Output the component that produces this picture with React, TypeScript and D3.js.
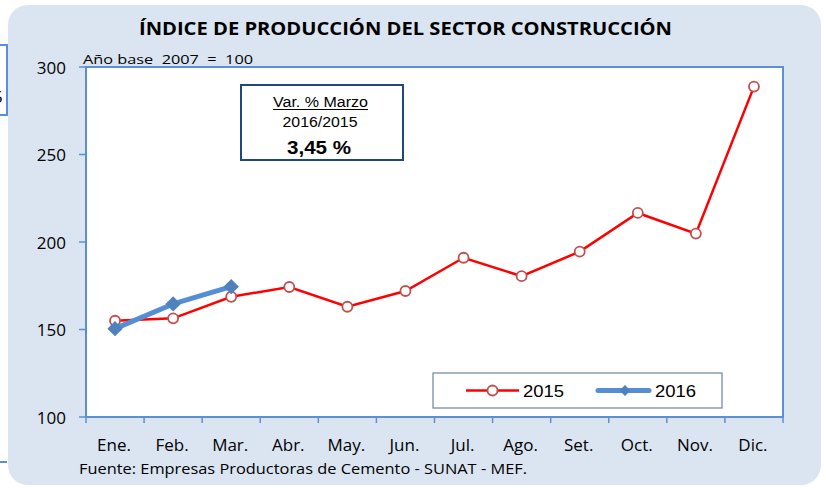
import React from "react";
import * as d3 from "d3";

const months = ["Ene.", "Feb.", "Mar.", "Abr.", "May.", "Jun.", "Jul.", "Ago.", "Set.", "Oct.", "Nov.", "Dic."];
const values2015 = [155.0, 156.4, 168.7, 174.3, 163.0, 172.0, 191.0, 180.5, 194.5, 216.6, 204.8, 288.8];
const values2016 = [150.5, 164.6, 174.5];
const yTicks = [100, 150, 200, 250, 300];
const title = "ÍNDICE DE PRODUCCIÓN DEL SECTOR CONSTRUCCIÓN";
const baseNote = "Año base  2007  =  100";
const source = "Fuente: Empresas Productoras de Cemento - SUNAT - MEF.";
const seriesNames = ["2015", "2016"];

const W = 826, H = 488;
const plot = { left: 86, right: 783, top: 67, bottom: 417 };
const BLUE = "#5b8fd6";
const CAL = "'Open Sans', 'DejaVu Sans', sans-serif";
const ARIAL = "'Liberation Sans', Arial, sans-serif";

export default function App() {
  const x = d3.scaleBand<string>().domain(months).range([plot.left, plot.right]).padding(0);
  const y = d3.scaleLinear().domain([100, 300]).range([plot.bottom, plot.top]);
  const cx = (i: number) => (x(months[i]) as number) + x.bandwidth() / 2;
  const line = d3.line<number>().x((_, i) => cx(i)).y((d) => y(d));
  const diamondType = (d3 as any).symbolDiamond2 || d3.symbolDiamond;
  const diamond = d3.symbol().type(diamondType).size(150)();
  const diamondSmall = d3.symbol().type(diamondType).size(75)();
  const boundaries = months.map((m) => x(m) as number).concat([plot.right]);

  return (
    <svg width={W} height={H} style={{ position: "absolute", left: 0, top: 0 }}>
      <rect x={0} y={0} width={W} height={H} fill="#ffffff" />
      {/* left fragments */}
      <path d="M0,45 H7 V115 H0" fill="none" stroke={BLUE} strokeWidth={2} />
      <text x={-7} y={103} fontFamily={CAL} fontSize={17} fill="#000">5</text>
      <line x1={0} x2={7} y1={462} y2={462} stroke={BLUE} strokeWidth={2} />
      {/* panel */}
      <rect x={8} y={5} width={813} height={480} rx={20} ry={20} fill="#dbe5f1" />
      <text x={139} y={35} fontFamily={CAL} fontWeight="bold" fontSize={18} textLength={533} lengthAdjust="spacingAndGlyphs" fill="#000">{title}</text>
      {/* plot area */}
      <rect x={plot.left} y={plot.top} width={plot.right - plot.left} height={plot.bottom - plot.top} fill="#ffffff" stroke={BLUE} strokeWidth={2} />
      <text x={83} y={64} fontFamily={CAL} fontSize={13} textLength={170} lengthAdjust="spacingAndGlyphs" style={{ whiteSpace: "pre" }} fill="#000">{baseNote}</text>
      {/* y axis ticks */}
      {yTicks.map((t) => (
        <g key={t}>
          <line x1={plot.left - 7} x2={plot.left} y1={y(t)} y2={y(t)} stroke={BLUE} strokeWidth={1.5} />
          <text x={66} y={y(t) + 6.5} textAnchor="end" fontFamily={CAL} fontSize={17} fill="#000">{t}</text>
        </g>
      ))}
      {/* x axis ticks */}
      {boundaries.map((b, i) => (
        <line key={i} x1={b} x2={b} y1={plot.bottom} y2={plot.bottom + 6} stroke={BLUE} strokeWidth={1.5} />
      ))}
      {months.map((m, i) => (
        <text key={m} x={cx(i) - 1} y={451} textAnchor="middle" fontFamily={CAL} fontSize={17} fill="#000">{m}</text>
      ))}
      <text x={79} y={474} fontFamily={CAL} fontSize={14.5} textLength={448} lengthAdjust="spacingAndGlyphs" fill="#000">{source}</text>
      {/* var box */}
      <rect x={241} y={85} width={162} height={75} fill="#ffffff" stroke="#1f497d" strokeWidth={2} />
      <text x={320.5} y={106.5} textAnchor="middle" fontFamily={ARIAL} fontSize={14} textLength={95} lengthAdjust="spacingAndGlyphs" fill="#000">Var. % Marzo</text>
      <line x1={273} x2={368} y1={109.5} y2={109.5} stroke="#000" strokeWidth={1} />
      <text x={320} y={127} textAnchor="middle" fontFamily={ARIAL} fontSize={14} textLength={75} lengthAdjust="spacingAndGlyphs" fill="#000">2016/2015</text>
      <text x={319} y={154} textAnchor="middle" fontFamily={ARIAL} fontWeight="bold" fontSize={18} textLength={64} lengthAdjust="spacingAndGlyphs" fill="#000">3,45 %</text>
      {/* series 2015 */}
      <path d={line(values2015) || ""} fill="none" stroke="#ff0000" strokeWidth={2.5} />
      {values2015.map((v, i) => (
        <circle key={i} cx={cx(i)} cy={y(v)} r={5} fill="#ffffff" stroke="#c0504d" strokeWidth={1.8} />
      ))}
      {/* series 2016 */}
      <path d={line(values2016) || ""} fill="none" stroke="#558ed5" strokeWidth={5} strokeLinejoin="round" />
      {values2016.map((v, i) => (
        <path key={i} d={diamond || ""} transform={`translate(${cx(i)},${y(v)})`} fill="#4f81bd" />
      ))}
      {/* legend */}
      <rect x={433} y={373} width={289} height={35} fill="#ffffff" stroke="#70819c" strokeWidth={1.2} />
      <line x1={466} x2={519} y1={390.5} y2={390.5} stroke="#ff0000" strokeWidth={2.5} />
      <circle cx={492.5} cy={390.5} r={5} fill="#ffffff" stroke="#c0504d" strokeWidth={1.8} />
      <text x={523} y={396.5} fontFamily={ARIAL} fontSize={16} textLength={41} lengthAdjust="spacingAndGlyphs" fill="#000">{seriesNames[0]}</text>
      <line x1={598} x2={649} y1={390.5} y2={390.5} stroke="#558ed5" strokeWidth={5} strokeLinecap="round" />
      <path d={diamondSmall || ""} transform={`translate(625,390.5)`} fill="#4f81bd" />
      <text x={655} y={396.5} fontFamily={ARIAL} fontSize={16} textLength={41} lengthAdjust="spacingAndGlyphs" fill="#000">{seriesNames[1]}</text>
    </svg>
  );
}
